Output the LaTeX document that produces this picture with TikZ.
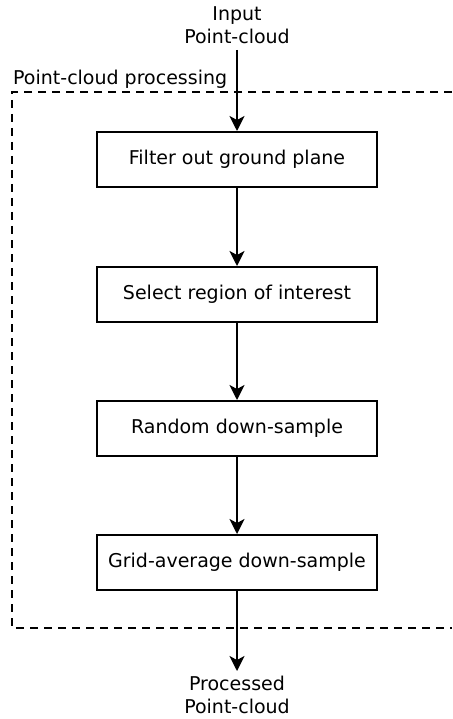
\documentclass[tikz,border=0pt]{standalone}
\usepackage{fontspec}
\setmainfont{DejaVu Sans}
\usetikzlibrary{arrows.meta}
\begin{document}
\begin{tikzpicture}[x=1pt,y=-1pt,
  box/.style={draw,line width=2pt,minimum width=280pt,minimum height=55pt,font=\fontsize{19}{23}\selectfont,inner sep=0pt},
  lbl/.style={align=center,font=\fontsize{19}{23}\selectfont,inner sep=0pt},
  arr/.style={line width=2pt,-{Stealth[length=15pt,width=15pt,inset=4pt]}},
  grp/.style={line width=1.8pt,dash pattern=on 8pt off 6pt}]
\useasboundingbox (0,0) rectangle (452,719);
\node[lbl] (in) at (237,25) {Input\\Point-cloud};
\node[box] (b1) at (237,159.5) {Filter out ground plane};
\node[box] (b2) at (237,294.5) {Select region of interest};
\node[box] (b3) at (237,428.5) {Random down-sample};
\node[box] (b4) at (237,562.5) {Grid-average down-sample};
\node[lbl] (out) at (237,695) {Processed\\Point-cloud};
\coordinate (gtr) at (452,92);
\coordinate (gtl) at (12,92);
\coordinate (gbl) at (12,628);
\coordinate (gbr) at (452,628);
\draw[grp] (gtr) -- (gtl) -- (gbl) -- (gbr);
\node[anchor=base west,inner sep=0pt,font=\fontsize{19}{23}\selectfont] (gl) at (13,85) {Point-cloud processing};
\coordinate (s0) at (237,50);
\coordinate (e4) at (237,671);
\draw[arr] (s0) -- (b1.north);
\draw[arr] (b1) -- (b2);
\draw[arr] (b2) -- (b3);
\draw[arr] (b3) -- (b4);
\draw[arr] (b4.south) -- (e4);
\end{tikzpicture}
\end{document}
